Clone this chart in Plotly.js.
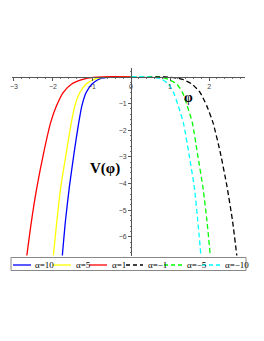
<!DOCTYPE html>
<html>
<head>
<meta charset="utf-8">
<script src="https://cdn.plot.ly/plotly-3.0.1.min.js"></script>
<style>html,body{margin:0;padding:0;background:#fff;}#chart{width:264px;height:341px;}</style>
</head>
<body>
<div id="chart"></div>
<script>
const vLevels = [0, 0, -0.02, -0.05, -0.11, -0.27, -0.59, -1.09, -1.72, -2.86, -4.13, -5.4, -6.7];

const phiA10  = [0, -0.40, -0.60, -0.75, -0.85, -1.00, -1.15, -1.26, -1.34, -1.46, -1.58, -1.68, -1.76];
const phiA5   = [0, -0.50, -0.70, -0.85, -0.97, -1.15, -1.31, -1.44, -1.53, -1.66, -1.80, -1.90, -1.99];
const phiA1   = [0, -0.70, -0.97, -1.12, -1.26, -1.52, -1.74, -1.91, -2.06, -2.24, -2.41, -2.55, -2.67];
const phiAm1  = [0, 0.75, 1.00, 1.18, 1.34, 1.56, 1.77, 1.94, 2.10, 2.29, 2.46, 2.60, 2.71];
const phiAm5  = [0, 0.50, 0.70, 0.86, 0.98, 1.17, 1.32, 1.44, 1.57, 1.70, 1.84, 1.945, 2.03];
const phiAm10 = [0, 0.35, 0.55, 0.70, 0.81, 0.96, 1.09, 1.21, 1.34, 1.48, 1.62, 1.71, 1.79];

const seriesNames = ["α=10", "α=5", "α=1", "α=−1", "α=−5", "α=−10"];
const xTicks = [-3, -2, -1, 0, 1, 2];
const yTicks = [-6, -5, -4, -3, -2, -1];

const colors = ["#0000ff", "#ffff00", "#ff0000", "#000000", "#00ff00", "#00ffff"];
const dashes = ["solid", "solid", "solid", "5px,3px", "5px,3px", "5px,3px"];
const phis = [phiA10, phiA5, phiA1, phiAm1, phiAm5, phiAm10];

const traces = phis.map((p, i) => ({
  x: p, y: vLevels, name: seriesNames[i], mode: "lines", type: "scatter",
  line: {color: colors[i], width: 1.3, dash: dashes[i], shape: "spline", smoothing: 0.6},
  showlegend: false, hoverinfo: "skip"
}));

// plot area in px: x 12..245, y 68..256
const L = 12, R = 245, T = 68, B = 256;
const xr = [-3.05, 2.92], yr = [-6.72, 0.33];
const px2paperX = px => (px - L) / (R - L);
const py2paperY = py => (B - py) / (B - T);

// manual legend (pixel positions of line starts/ends and text starts)
const legLine0 = [13, 53, 89, 126, 164, 202];
const legLine1 = [31, 71, 107, 143, 182, 220];
const legText0 = [33, 74, 110, 146, 185, 223];
const legY = py2paperY(265);

const shapes = [{
  type: "rect", xref: "paper", yref: "paper",
  x0: px2paperX(11), x1: px2paperX(246), y0: py2paperY(257.5), y1: py2paperY(270.5),
  line: {color: "#888", width: 1}, fillcolor: "rgba(0,0,0,0)"
}];
const annotations = [];
seriesNames.forEach((n, i) => {
  shapes.push({type: "line", xref: "paper", yref: "paper",
    x0: px2paperX(legLine0[i]), x1: px2paperX(legLine1[i]), y0: legY, y1: legY,
    line: {color: colors[i], width: 1.3, dash: dashes[i] === "solid" ? "solid" : "4px,3px"}});
  annotations.push({xref: "paper", yref: "paper", x: px2paperX(legText0[i]), y: legY,
    xanchor: "left", yanchor: "middle", showarrow: false, text: n,
    font: {family: "Liberation Serif", size: 9, color: "#000"}});
});
annotations.push({xref: "x", yref: "y", x: -0.68, y: -3.45, showarrow: false,
  text: "<b>V(φ)</b>", font: {family: "Liberation Serif", size: 15, color: "#000"}});
annotations.push({xref: "x", yref: "y", x: 1.46, y: -0.79, showarrow: false,
  text: "<b>φ</b>", font: {family: "Liberation Serif", size: 14, color: "#000"}});

const layout = {
  width: 264, height: 341,
  margin: {l: L, r: 264 - R, t: T, b: 341 - B, pad: 0},
  paper_bgcolor: "#fff", plot_bgcolor: "#fff",
  showlegend: false,
  xaxis: {
    range: xr, anchor: "free", position: (0 - yr[0]) / (yr[1] - yr[0]),
    showline: true, linecolor: "#555", linewidth: 1, zeroline: false, showgrid: false,
    tickmode: "array", tickvals: xTicks, ticks: "outside", ticklen: 3, tickcolor: "#555",
    tickfont: {family: "Liberation Sans", size: 7, color: "#444"},
    minor: {dtick: 0.2, ticks: "outside", ticklen: 1.5, tickcolor: "#777", showgrid: false},
    fixedrange: true
  },
  yaxis: {
    range: yr, anchor: "free", position: (0 - xr[0]) / (xr[1] - xr[0]),
    showline: true, linecolor: "#555", linewidth: 1, zeroline: false, showgrid: false,
    tickmode: "array", tickvals: yTicks, ticks: "outside", ticklen: 3, tickcolor: "#555",
    tickfont: {family: "Liberation Sans", size: 7, color: "#444"},
    minor: {dtick: 0.2, ticks: "outside", ticklen: 1.5, tickcolor: "#777", showgrid: false},
    fixedrange: true
  },
  shapes: shapes,
  annotations: annotations
};

Plotly.newPlot("chart", traces, layout, {staticPlot: true, displayModeBar: false});
</script>
</body>
</html>
